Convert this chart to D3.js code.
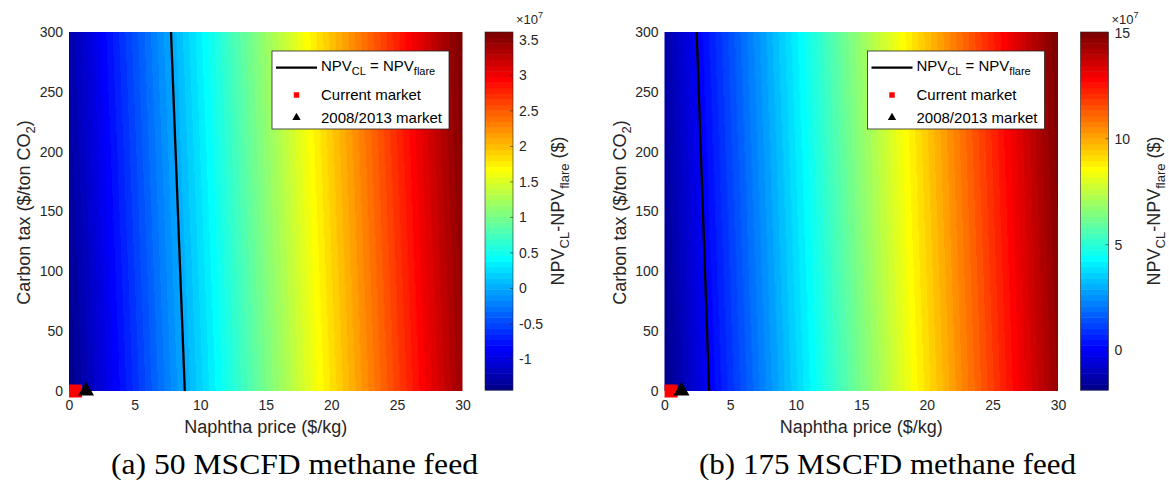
<!DOCTYPE html>
<html>
<head>
<meta charset="utf-8">
<script src="https://cdn.jsdelivr.net/npm/d3@7"></script>
<style>
  html, body { margin: 0; padding: 0; background: #fff; }
  svg { display: block; font-family: "Liberation Sans", Arial, Helvetica, sans-serif; }
</style>
</head>
<body>
<svg id="fig" width="1169" height="489"></svg>
<script>
// Naphtha price grid ($/kg) and carbon tax grid ($/ton CO2)
const naphthaPrices = [0, 5, 10, 15, 20, 25, 30];
const carbonTaxes = [0, 300];

// NPV_CL - NPV_flare ($): one row per carbon tax, one column per naphtha price
const npvDiff50 = [
  [-1.43e7, -0.62e7, 0.19e7, 1.00e7, 1.81e7, 2.62e7, 3.43e7],
  [-1.26e7, -0.45e7, 0.36e7, 1.17e7, 1.98e7, 2.79e7, 3.61e7]
];
const npvDiff175 = [
  [-1.86e7, 0.87e7, 3.60e7, 6.33e7, 9.06e7, 11.79e7, 14.52e7],
  [-1.34e7, 1.39e7, 4.12e7, 6.85e7, 9.58e7, 12.31e7, 15.04e7]
];

// Market points [naphtha price, carbon tax]
const currentMarket = [0.5, 0];
const market20082013 = [1.3, 0];

// Tick labels
const xTicks = [0, 5, 10, 15, 20, 25, 30];
const yTicks = [0, 50, 100, 150, 200, 250, 300];
const cbTicks50 = [-1, -0.5, 0, 0.5, 1, 1.5, 2, 2.5, 3, 3.5];
const cbTicks175 = [0, 5, 10, 15];
const captions = ["(a) 50 MSCFD methane feed", "(b) 175 MSCFD methane feed"];

// MATLAB-style jet colormap with m entries
function jet(m) {
  const n = Math.ceil(m / 4);
  const u = [];
  for (let i = 1; i <= n; i++) u.push(i / n);
  for (let i = 1; i < n; i++) u.push(1);
  for (let i = n; i >= 1; i--) u.push(i / n);
  const off = Math.ceil(n / 2) - (m % 4 === 1 ? 1 : 0);
  const g = u.map((_, i) => off + i + 1);
  const r = g.map(v => v + n).filter(v => v <= m);
  const b = g.map(v => v - n).filter(v => v >= 1);
  const gg = g.filter(v => v <= m);
  const J = d3.range(m).map(() => [0, 0, 0]);
  r.forEach((idx, i) => { J[idx - 1][0] = u[i]; });
  gg.forEach((idx, i) => { J[idx - 1][1] = u[i]; });
  b.forEach((idx, i) => { J[idx - 1][2] = u[u.length - b.length + i]; });
  return J.map(c => d3.rgb(c[0] * 255, c[1] * 255, c[2] * 255).formatHex());
}
const jet64 = jet(64);

// Bilinear lookup in a price x tax table
function valueAt(table, x, y) {
  const xi = Math.max(0, Math.min(naphthaPrices.length - 2, d3.bisectRight(naphthaPrices, x) - 1));
  const yi = Math.max(0, Math.min(carbonTaxes.length - 2, d3.bisectRight(carbonTaxes, y) - 1));
  const tx = (x - naphthaPrices[xi]) / (naphthaPrices[xi + 1] - naphthaPrices[xi]);
  const ty = (y - carbonTaxes[yi]) / (carbonTaxes[yi + 1] - carbonTaxes[yi]);
  const a = table[yi][xi] * (1 - tx) + table[yi][xi + 1] * tx;
  const b = table[yi + 1][xi] * (1 - tx) + table[yi + 1][xi + 1] * tx;
  return a * (1 - ty) + b * ty;
}

// Naphtha price where a table row crosses zero
function zeroCrossing(row) {
  for (let i = 0; i < row.length - 1; i++) {
    if ((row[i] <= 0 && row[i + 1] > 0) || (row[i] >= 0 && row[i + 1] < 0)) {
      const t = -row[i] / (row[i + 1] - row[i]);
      return naphthaPrices[i] + t * (naphthaPrices[i + 1] - naphthaPrices[i]);
    }
  }
  return null;
}

const svg = d3.select("#fig");
const textColor = "#262626";

function subText(sel, parts, baseSize, subSize) {
  // parts: [text, isSub]
  let prevSub = false;
  parts.forEach(([t, sub]) => {
    const ts = sel.append("tspan").text(t).attr("font-size", sub ? subSize : baseSize);
    if (sub && !prevSub) ts.attr("dy", baseSize * 0.3);
    if (!sub && prevSub) ts.attr("dy", -baseSize * 0.3);
    prevSub = sub;
  });
}

function drawPanel(dx, table, cbTicks, caption, captionWidth, captionX) {
  const g = svg.append("g").attr("transform", `translate(${dx},0)`);
  const plot = { x0: 69, x1: 462.5, y0: 32, y1: 391 };
  const xs = d3.scaleLinear().domain([0, 30]).range([plot.x0, plot.x1]);
  const ys = d3.scaleLinear().domain([0, 300]).range([plot.y1, plot.y0]);
  const extent = d3.extent(table.flat());
  const color = d3.scaleQuantize().domain(extent).range(jet64);

  // Heat map raster
  const w = Math.round(plot.x1 - plot.x0), h = Math.round(plot.y1 - plot.y0);
  const canvas = document.createElement("canvas");
  canvas.width = w; canvas.height = h;
  const ctx = canvas.getContext("2d");
  const img = ctx.createImageData(w, h);
  for (let j = 0; j < h; j++) {
    const tax = ys.invert(plot.y0 + j + 0.5);
    for (let i = 0; i < w; i++) {
      const price = xs.invert(plot.x0 + i + 0.5);
      const c = d3.rgb(color(valueAt(table, price, tax)));
      const k = (j * w + i) * 4;
      img.data[k] = c.r; img.data[k + 1] = c.g; img.data[k + 2] = c.b; img.data[k + 3] = 255;
    }
  }
  ctx.putImageData(img, 0, 0);
  g.append("image")
    .attr("href", canvas.toDataURL())
    .attr("x", plot.x0).attr("y", plot.y0)
    .attr("width", plot.x1 - plot.x0).attr("height", plot.y1 - plot.y0)
    .attr("preserveAspectRatio", "none");

  // NPV_CL = NPV_flare break-even line
  const contour = carbonTaxes.map((tax, r) => [zeroCrossing(table[r]), tax]);
  g.append("path")
    .attr("d", d3.line().x(d => xs(d[0])).y(d => ys(d[1]))(contour))
    .attr("fill", "none").attr("stroke", "#000").attr("stroke-width", 2.3);

  // Market markers
  g.append("path")
    .attr("d", d3.symbol(d3.symbolSquare, 169)())
    .attr("transform", `translate(${xs(currentMarket[0])},${ys(currentMarket[1])})`)
    .attr("fill", "#ff0000");
  g.append("path")
    .attr("d", d3.symbol(d3.symbolTriangle, 110)())
    .attr("transform", `translate(${xs(market20082013[0])},${ys(market20082013[1])})`)
    .attr("fill", "#000");

  // Axes
  const xAxis = g.append("g").attr("transform", `translate(0,${plot.y1})`)
    .call(d3.axisBottom(xs).tickValues(xTicks).tickSize(0).tickPadding(9));
  const yAxis = g.append("g").attr("transform", `translate(${plot.x0},0)`)
    .call(d3.axisLeft(ys).tickValues(yTicks).tickSize(0).tickPadding(6));
  [xAxis, yAxis].forEach(a => {
    a.select(".domain").remove();
    a.selectAll("text").attr("font-size", 14).attr("fill", textColor)
      .attr("font-family", "'Liberation Sans', Arial, sans-serif");
  });

  // Axis labels
  g.append("text").attr("x", (plot.x0 + plot.x1) / 2).attr("y", 433)
    .attr("text-anchor", "middle").attr("font-size", 18).attr("fill", textColor)
    .text("Naphtha price ($/kg)");
  const yl = g.append("text").attr("transform", `translate(30,${(plot.y0 + plot.y1) / 2 + 1}) rotate(-90)`)
    .attr("text-anchor", "middle").attr("fill", textColor);
  subText(yl, [["Carbon tax ($/ton CO", false], ["2", true], [")", false]], 18, 13);

  // Legend
  const lg = g.append("g").attr("transform", `translate(${plot.x1 - 190.5},51)`);
  lg.append("rect").attr("width", 177).attr("height", 78)
    .attr("fill", "#fff").attr("stroke", textColor).attr("stroke-width", 0.8);
  lg.append("line").attr("x1", 4).attr("x2", 45).attr("y1", 16.7).attr("y2", 16.7)
    .attr("stroke", "#000").attr("stroke-width", 2.3);
  const t1 = lg.append("text").attr("x", 49).attr("y", 19.5).attr("fill", "#000");
  subText(t1, [["NPV", false], ["CL", true], [" = NPV", false], ["flare", true]], 15, 11);
  lg.append("path").attr("d", d3.symbol(d3.symbolSquare, 30)())
    .attr("transform", "translate(24.5,44)").attr("fill", "#ff0000");
  lg.append("text").attr("x", 49).attr("y", 48.5).attr("font-size", 15).attr("fill", "#000")
    .text("Current market");
  lg.append("path").attr("d", d3.symbol(d3.symbolTriangle, 30)())
    .attr("transform", "translate(24.5,66.5)").attr("fill", "#000");
  lg.append("text").attr("x", 49).attr("y", 71.5).attr("font-size", 15).attr("fill", "#000")
    .text("2008/2013 market");

  // Colour bar
  const cb = { x0: 485, x1: 513, y0: 32, y1: 390 };
  const cs = d3.scaleLinear().domain(extent).range([cb.y1, cb.y0]);
  const step = (extent[1] - extent[0]) / jet64.length;
  g.append("g").selectAll("rect").data(jet64).join("rect")
    .attr("x", cb.x0).attr("width", cb.x1 - cb.x0)
    .attr("y", (d, i) => cs(extent[0] + (i + 1) * step))
    .attr("height", (d, i) => cs(extent[0] + i * step) - cs(extent[0] + (i + 1) * step) + 0.5)
    .attr("fill", d => d);
  g.append("rect").attr("x", cb.x0).attr("y", cb.y0)
    .attr("width", cb.x1 - cb.x0).attr("height", cb.y1 - cb.y0)
    .attr("fill", "none").attr("stroke", textColor).attr("stroke-width", 0.6);
  const cbt = g.append("g");
  cbTicks.forEach(v => {
    const y = cs(v * 1e7);
    cbt.append("line").attr("x1", cb.x1 - 3).attr("x2", cb.x1).attr("y1", y).attr("y2", y)
      .attr("stroke", textColor).attr("stroke-width", 0.6);
    cbt.append("text").attr("x", cb.x1 + 6).attr("y", y).attr("dy", "0.35em")
      .attr("font-size", 14).attr("fill", textColor).text(String(v));
  });
  const ex = g.append("text").attr("x", cb.x1 + 3).attr("y", 24).attr("fill", textColor);
  ex.append("tspan").attr("font-size", 13).text("\u00d710");
  ex.append("tspan").attr("font-size", 9).attr("dy", -6).text("7");

  const cl = g.append("text").attr("transform", `translate(564,${(cb.y0 + cb.y1) / 2}) rotate(-90)`)
    .attr("text-anchor", "middle").attr("fill", textColor);
  subText(cl, [["NPV", false], ["CL", true], ["-NPV", false], ["flare", true], [" ($)", false]], 18, 13);

  // Caption
  g.append("text").attr("x", captionX).attr("y", 474).attr("text-anchor", "middle")
    .attr("font-family", "'Liberation Serif', 'DejaVu Serif', serif")
    .attr("font-size", 30).attr("fill", "#000")
    .attr("textLength", captionWidth).attr("lengthAdjust", "spacingAndGlyphs")
    .text(caption);
}

drawPanel(0, npvDiff50, cbTicks50, captions[0], 367, 294.5);
drawPanel(595.5, npvDiff175, cbTicks175, captions[1], 377, 292);
</script>
</body>
</html>
